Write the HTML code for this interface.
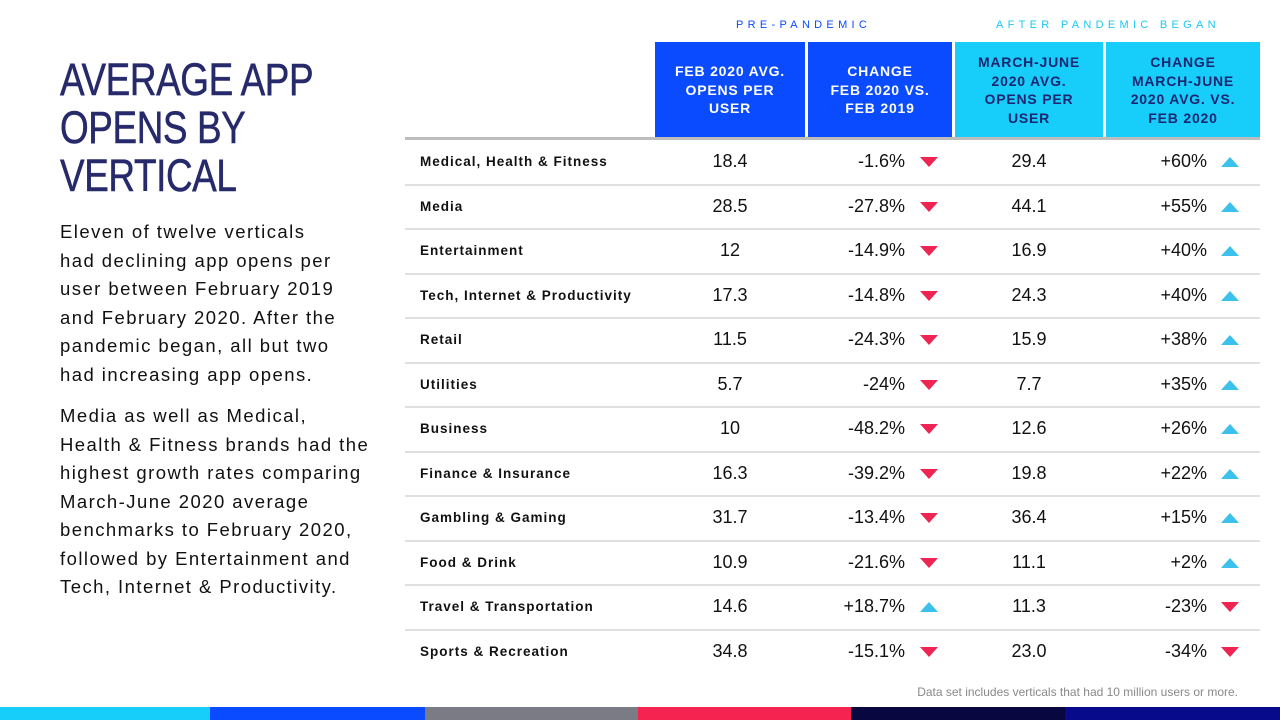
<!DOCTYPE html>
<html><head><meta charset="utf-8">
<style>
*{margin:0;padding:0;box-sizing:border-box}
body{width:1280px;height:720px;background:#fff;position:relative;overflow:hidden;font-family:"Liberation Sans",sans-serif;color:#111}
.abs{position:absolute}
#title{left:60px;top:56px;font-size:45px;line-height:48px;color:#262a6b;font-weight:normal;transform:scaleX(0.82);transform-origin:0 0;white-space:nowrap;letter-spacing:-0.5px;-webkit-text-stroke:0.5px #262a6b}
.para{left:60px;white-space:nowrap;font-size:18.5px;line-height:28.5px;letter-spacing:1.45px;color:#111}
.grp{font-size:11px;letter-spacing:4.3px;top:19px}
.hdr{top:42px;height:96px;display:flex;align-items:center;justify-content:center;text-align:center;font-size:14px;font-weight:bold;letter-spacing:0.8px;line-height:18.5px}
.lab{left:420px;font-size:13.5px;font-weight:bold;letter-spacing:1px;color:#111}
.val{font-size:18px;color:#111}
.sep{left:405px;width:855px;height:2px;background:#e0e0e0}
.seg{top:707px;height:13px}
</style></head><body>
<div id="title" class="abs">AVERAGE APP<br>OPENS BY<br>VERTICAL</div>
<div class="abs para" style="top:218px">Eleven of twelve verticals<br>had declining app opens per<br>user between February 2019<br>and February 2020. After the<br>pandemic began, all but two<br>had increasing app opens.</div>
<div class="abs para" style="top:402px">Media as well as Medical,<br>Health &amp; Fitness brands had the<br>highest growth rates comparing<br>March-June 2020 average<br>benchmarks to February 2020,<br>followed by Entertainment and<br>Tech, Internet &amp; Productivity.</div>

<div class="abs grp" style="left:736px;color:#0a4bff">PRE-PANDEMIC</div>
<div class="abs grp" style="left:996px;color:#1cc8f0">AFTER PANDEMIC BEGAN</div>

<div class="abs hdr" style="left:655px;width:150px;background:#0a4bff;color:#fff">FEB 2020 AVG.<br>OPENS PER<br>USER</div>
<div class="abs hdr" style="left:808px;width:144px;background:#0a4bff;color:#fff">CHANGE<br>FEB 2020 VS.<br>FEB 2019</div>
<div class="abs hdr" style="left:955px;width:148px;background:#17cdfa;color:#1b2570">MARCH-JUNE<br>2020 AVG.<br>OPENS PER<br>USER</div>
<div class="abs hdr" style="left:1106px;width:154px;background:#17cdfa;color:#1b2570">CHANGE<br>MARCH-JUNE<br>2020 AVG. VS.<br>FEB 2020</div>
<div class="abs" style="left:405px;top:137px;width:855px;height:3px;background:#bdbdbd"></div>

<div id="rows"></div>

<div class="abs" style="right:42px;top:685px;font-size:12px;color:#888">Data set includes verticals that had 10 million users or more.</div>

<div class="abs seg" style="left:0;width:210px;background:#17cdfa"></div>
<div class="abs seg" style="left:210px;width:215px;background:#0a4bff"></div>
<div class="abs seg" style="left:425px;width:213px;background:#7b7b86"></div>
<div class="abs seg" style="left:638px;width:213px;background:#f5234f"></div>
<div class="abs seg" style="left:851px;width:214px;background:#08073f"></div>
<div class="abs seg" style="left:1065px;width:215px;background:#070a8a"></div>

<script>
const categories=["Medical, Health & Fitness","Media","Entertainment","Tech, Internet & Productivity","Retail","Utilities","Business","Finance & Insurance","Gambling & Gaming","Food & Drink","Travel & Transportation","Sports & Recreation"];
const febAvg=["18.4","28.5","12","17.3","11.5","5.7","10","16.3","31.7","10.9","14.6","34.8"];
const febChange=["-1.6%","-27.8%","-14.9%","-14.8%","-24.3%","-24%","-48.2%","-39.2%","-13.4%","-21.6%","+18.7%","-15.1%"];
const mjAvg=["29.4","44.1","16.9","24.3","15.9","7.7","12.6","19.8","36.4","11.1","11.3","23.0"];
const mjChange=["+60%","+55%","+40%","+40%","+38%","+35%","+26%","+22%","+15%","+2%","-23%","-34%"];
const root=document.getElementById('rows');
const top0=140,rowH=44.5;
function tri(x,y,up){
  const d=document.createElement('div');
  d.className='abs';
  d.style.left=x+'px';d.style.top=(y-5)+'px';d.style.width='0';d.style.height='0';
  d.style.borderLeft='9px solid transparent';d.style.borderRight='9px solid transparent';
  if(up){d.style.borderBottom='10px solid #3cc0ec';}else{d.style.borderTop='10px solid #ee2453';}
  
  
  root.appendChild(d);
}
function txt(cls,text,css,name){
  const d=document.createElement('div');
  d.className='abs '+cls;d.textContent=text;
  Object.assign(d.style,css);
  
  
  root.appendChild(d);
}
categories.forEach((c,i)=>{
  const cy=top0+rowH*i+rowH/2;
  txt('lab',c,{top:(cy-8)+'px'},'row-label');
  txt('val',febAvg[i],{left:'655px',width:'150px',textAlign:'center',top:(cy-11)+'px'},'feb-avg-value');
  txt('val',febChange[i],{right:(1280-905)+'px',top:(cy-11)+'px'},'feb-change-value');
  tri(920,cy,febChange[i][0]==='+');
  txt('val',mjAvg[i],{left:'955px',width:'148px',textAlign:'center',top:(cy-11)+'px'},'march-june-avg-value');
  txt('val',mjChange[i],{right:(1280-1207)+'px',top:(cy-11)+'px'},'march-june-change-value');
  tri(1221,cy,mjChange[i][0]==='+');
  if(i<categories.length-1){
    const s=document.createElement('div');
    s.className='abs sep';s.style.top=(top0+rowH*(i+1)-1)+'px';
    
    
    root.appendChild(s);
  }
});
</script>
</body></html>
